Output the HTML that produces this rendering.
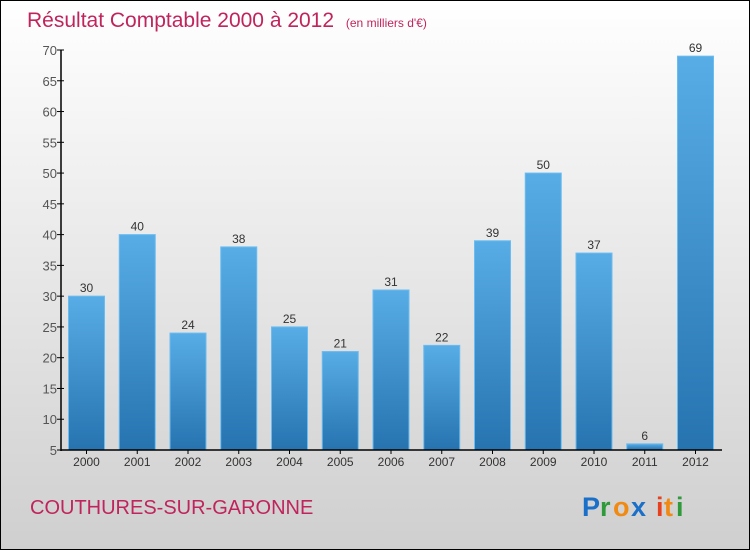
<!DOCTYPE html>
<html><head><meta charset="utf-8"><style>
body{margin:0}
svg{display:block;font-family:"Liberation Sans",sans-serif}
</style></head><body>
<svg width="750" height="550" viewBox="0 0 750 550">
<defs>
<linearGradient id="bg" x1="0" y1="0" x2="0" y2="1"><stop offset="0" stop-color="#ffffff"/><stop offset="1" stop-color="#cfcfcf"/></linearGradient>
<linearGradient id="bar" x1="0" y1="0" x2="0" y2="1"><stop offset="0" stop-color="#58ade6"/><stop offset="1" stop-color="#2673b0"/></linearGradient>
</defs>
<rect x="0.5" y="0.5" width="749" height="549" fill="url(#bg)" stroke="#000"/>
<text x="27" y="27" font-size="21" fill="#c0245c">Résultat Comptable 2000 à 2012 <tspan font-size="12" dx="6">(en milliers d'€)</tspan></text>
<g id="plot"></g>
<text x="30" y="514" font-size="20" fill="#c0245c">COUTHURES-SUR-GARONNE</text>
<g font-size="27" font-weight="bold">
<text x="582" y="516" fill="#1a6fc8">P</text><text x="600" y="516" fill="#2e9a3a">r</text><text x="613" y="516" fill="#f08a12">o</text><text x="631" y="516" fill="#1a6fc8">x</text><text x="656" y="516" fill="#e8401c">i</text><text x="664" y="516" fill="#f08a12">t</text><text x="676" y="516" fill="#2e9a3a">i</text>
</g>
</svg>
<script>
const categories=["2000","2001","2002","2003","2004","2005","2006","2007","2008","2009","2010","2011","2012"];
const values=[30,40,24,38,25,21,31,22,39,50,37,6,69];
const yTicks=[5,10,15,20,25,30,35,40,45,50,55,60,65,70];
const NS="http://www.w3.org/2000/svg";
const g=document.getElementById('plot');
const x0=61,yMin=5,yMax=70,yTop=50,yBot=450,step=50.75,bw=36;
const y=v=>yBot-(v-yMin)/(yMax-yMin)*(yBot-yTop);
const xc=i=>x0+25.5+i*step;
function mk(t,a){const e=document.createElementNS(NS,t);for(const k in a)e.setAttribute(k,a[k]);g.appendChild(e);return e;}
yTicks.forEach(v=>{
  const l=mk('line',{x1:x0-4,x2:x0+3,y1:y(v),y2:y(v),stroke:'#000'});
  
  
  const t=mk('text',{x:x0-4,y:y(v)+5,'font-size':13,fill:'#555','text-anchor':'end'});
  t.textContent=v;
  
  
});
categories.forEach((c,i)=>{
  const r=mk('rect',{x:xc(i)-bw/2,y:y(values[i]),width:bw,height:yBot-y(values[i]),fill:'url(#bar)',stroke:'#6bbcf0','stroke-width':1});
  
  
  const v=mk('text',{x:xc(i),y:y(values[i])-4,'font-size':12,fill:'#333','text-anchor':'middle'});
  v.textContent=values[i];
  
  
  mk('line',{x1:xc(i),x2:xc(i),y1:yBot,y2:yBot+4,stroke:'#000'});
  const t=mk('text',{x:xc(i),y:yBot+16,'font-size':12,fill:'#333','text-anchor':'middle'});
  t.textContent=c;
  
  
});
const ya=mk('line',{x1:x0,x2:x0,y1:yTop,y2:yBot+1,stroke:'#000','stroke-width':1.5});


const xa=mk('line',{x1:x0,x2:722,y1:yBot,y2:yBot,stroke:'#000','stroke-width':1.5});


</script>
</body></html>
